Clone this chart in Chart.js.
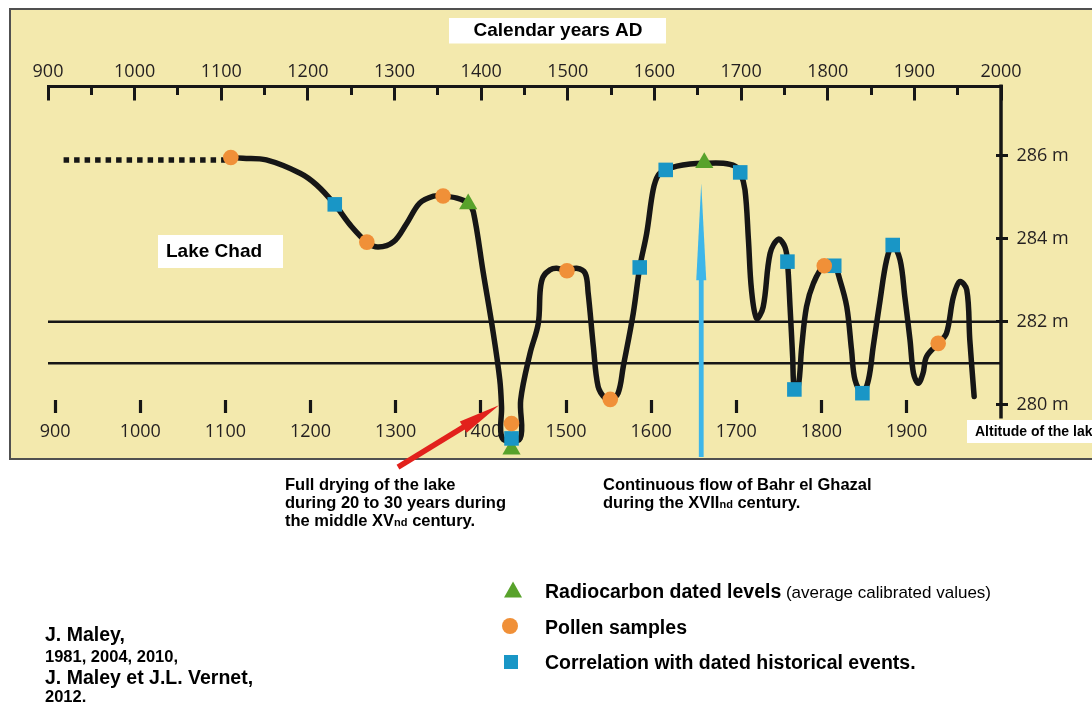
<!DOCTYPE html>
<html>
<head>
<meta charset="utf-8">
<script src="https://cdn.jsdelivr.net/npm/chart.js@4.4.1/dist/chart.umd.min.js"></script>
<style>
  html, body { margin: 0; padding: 0; background: #ffffff; }
  #c { display: block; }
</style>
</head>
<body>
<canvas id="c" width="1092" height="703"></canvas>
<script>
// ---------- data ----------
const curveYears = [1111, 1125, 1152, 1191, 1210, 1231, 1249, 1268, 1281, 1299, 1314, 1329, 1345, 1356, 1372, 1385, 1391,
  1402.5, 1414, 1421.5, 1423.5, 1424.5, 1445, 1445.6, 1456.4, 1465.9, 1468.2, 1471.4, 1479.4, 1487.2, 1499, 1510, 1520, 1523.5, 1529.5,
  1535, 1543, 1549, 1558, 1564, 1575.5, 1583, 1591, 1598.5, 1604.5, 1613, 1626, 1641, 1657.5, 1679.5, 1693, 1699,
  1704.5, 1708.5, 1712, 1718, 1725.5, 1733.5, 1743, 1750.5, 1753.5, 1756.5, 1759.5, 1761.5, 1766, 1770, 1775.5,
  1783.5, 1795.5, 1807.5, 1814, 1822, 1827.5, 1831.5, 1840, 1847, 1852.5, 1860.5, 1868, 1875, 1883.5, 1889, 1895,
  1899, 1904.5, 1910, 1914, 1927.5, 1937, 1945, 1952.5, 1960.5, 1964, 1969];
const curveLevels = [285.96, 285.94, 285.90, 285.58, 285.30, 284.83, 284.33, 283.92, 283.80, 283.93, 284.37, 284.86, 285.03, 285.03, 284.98, 284.86, 284.65,
  283.17, 281.72, 280.60, 279.95, 279.19, 279.19, 280.12, 281.24, 281.96, 282.77, 283.08, 283.25, 283.29, 283.23, 283.29, 283.17, 282.69, 281.40,
  280.44, 280.16, 280.13, 280.28, 280.92, 282.20, 283.31, 284.13, 285.18, 285.54, 285.66, 285.75, 285.80, 285.82, 285.82, 285.75, 285.60,
  285.18, 283.97, 282.77, 282.08, 282.36, 283.65, 283.99, 283.81, 283.45, 282.36, 281.16, 280.37, 280.44, 281.40, 282.36,
  282.93, 283.35, 283.35, 283.01, 282.36, 281.32, 280.60, 280.28, 280.60, 281.40, 282.53, 283.49, 283.85, 283.49, 282.60, 281.56,
  280.76, 280.52, 280.76, 281.16, 281.48, 281.72, 282.60, 282.97, 282.77, 281.56, 280.20];

const dottedYears = [918, 1106];
const dottedLevels = [285.9, 285.9];

const thresholdLevels = [282, 281];

const radiocarbonYears = [1385, 1435, 1657.5];
const radiocarbonLevels = [284.84, 278.93, 285.83];

const pollenYears = [1111, 1268, 1356, 1435, 1499, 1549, 1796, 1927.5];
const pollenLevels = [285.96, 283.92, 285.03, 279.55, 283.23, 280.13, 283.35, 281.48];

const historicalYears = [1231, 1435, 1583, 1613, 1699, 1753.5, 1761.5, 1807.5, 1840, 1875];
const historicalLevels = [284.83, 279.19, 283.31, 285.66, 285.60, 283.45, 280.37, 283.35, 280.28, 283.85];

const topTickYears = [900, 1000, 1100, 1200, 1300, 1400, 1500, 1600, 1700, 1800, 1900, 2000];
const minorTickYears = [950, 1050, 1150, 1250, 1350, 1450, 1550, 1650, 1750, 1850, 1950];
const bottomTickYears = [900, 1000, 1100, 1200, 1300, 1400, 1500, 1600, 1700, 1800, 1900];
const altitudeTicks = [280, 282, 284, 286];

// annotation anchors (years / levels)
const flowArrow = { year: 1654, tip: 285.34, headBase: 283.0 };
const dryArrow = { fromYear: 1304, fromLevel: 278.5, toYear: 1420.6, toLevel: 279.99 };
const axisLineBottom = 279.67;

// ---------- helpers ----------
const zip = (xs, ys) => xs.map((x, i) => ({ x: x, y: ys[i] }));
const INK = '#161616';
const TICKFONT = { family: '"Open Sans", "DejaVu Sans", sans-serif', size: 18 };
const TICKCOLOR = '#231f20';
const SANS = '"Liberation Sans", Arial, sans-serif';
const Y_MIN = 278.694, Y_MAX = 287.682;
const X_MIN = topTickYears[0], X_MAX = topTickYears[topTickYears.length - 1];

function setTicks(list) {
  return (scale) => { scale.ticks = list.map(v => ({ value: v })); };
}

function drawRuns(ctx, x, y, parts) {
  let cx = x;
  for (const [t, f] of parts) {
    ctx.font = f;
    ctx.fillText(t, cx, y);
    cx += ctx.measureText(t).width;
  }
}

const decor = {
  id: 'decor',
  beforeDraw(chart) {
    const ctx = chart.ctx;
    ctx.save();
    ctx.fillStyle = '#ffffff';
    ctx.fillRect(0, 0, chart.width, chart.height);
    ctx.fillStyle = '#F3E9AD';
    ctx.fillRect(10, 9, 1100, 450);
    ctx.strokeStyle = '#505050';
    ctx.lineWidth = 2;
    ctx.strokeRect(10, 9, 1100, 450);
    ctx.restore();
  },
  beforeDatasetsDraw(chart) {
    // right-hand altitude axis line, stopping just under 280 m
    const ctx = chart.ctx;
    const sx = chart.scales.x, sy = chart.scales.y;
    const x = sx.getPixelForValue(X_MAX);
    ctx.save();
    ctx.strokeStyle = INK;
    ctx.lineWidth = 3.5;
    ctx.beginPath();
    ctx.moveTo(x, sy.getPixelForValue(Y_MAX) - 1.5);
    ctx.lineTo(x, sy.getPixelForValue(axisLineBottom));
    ctx.stroke();
    ctx.restore();
  },
  afterDatasetsDraw(chart) {
    const ctx = chart.ctx;
    const sx = chart.scales.x, sy = chart.scales.y;
    ctx.save();
    // blue arrow (continuous flow of Bahr el Ghazal)
    const ax = sx.getPixelForValue(flowArrow.year);
    const tipY = sy.getPixelForValue(flowArrow.tip);
    const baseY = sy.getPixelForValue(flowArrow.headBase);
    ctx.fillStyle = '#3DB6E9';
    ctx.fillRect(ax - 2.4, baseY - 1, 4.8, 458 - baseY);
    ctx.beginPath();
    ctx.moveTo(ax, tipY);
    ctx.lineTo(ax + 5, baseY);
    ctx.lineTo(ax - 5, baseY);
    ctx.closePath();
    ctx.fill();
    // red arrow (full drying)
    const x0 = sx.getPixelForValue(dryArrow.fromYear), y0 = sy.getPixelForValue(dryArrow.fromLevel);
    const x1 = sx.getPixelForValue(dryArrow.toYear), y1 = sy.getPixelForValue(dryArrow.toLevel);
    const dx = x1 - x0, dy = y1 - y0, L = Math.hypot(dx, dy);
    const ux = dx / L, uy = dy / L, nx = -uy, ny = ux;
    const headLen = 42, halfW = 6.5;
    const bx = x1 - ux * headLen, by = y1 - uy * headLen;
    ctx.strokeStyle = '#E2211C';
    ctx.fillStyle = '#E2211C';
    ctx.lineWidth = 5.5;
    ctx.lineCap = 'butt';
    ctx.beginPath();
    ctx.moveTo(x0, y0);
    ctx.lineTo(bx + ux * 4, by + uy * 4);
    ctx.stroke();
    ctx.beginPath();
    ctx.moveTo(x1, y1);
    ctx.lineTo(bx + nx * halfW, by + ny * halfW);
    ctx.lineTo(bx - nx * halfW, by - ny * halfW);
    ctx.closePath();
    ctx.fill();
    ctx.restore();
  },
  afterDraw(chart) {
    const ctx = chart.ctx;
    ctx.save();
    // white label boxes
    ctx.fillStyle = '#ffffff';
    ctx.fillRect(449, 18, 217, 25.5);
    ctx.fillRect(158, 235, 125, 33);
    ctx.fillRect(967, 420, 130, 23);
    ctx.fillStyle = '#000000';
    ctx.textBaseline = 'middle';
    ctx.font = 'bold 19px ' + SANS;
    ctx.textAlign = 'center';
    ctx.fillText('Calendar years AD', 558, 31);
    ctx.textAlign = 'left';
    ctx.fillText('Lake Chad', 166, 252);
    ctx.font = 'bold 14px ' + SANS;
    ctx.fillText('Altitude of the lake', 975, 432);

    // annotations below the frame
    ctx.textBaseline = 'alphabetic';
    const B = 'bold 16.5px ' + SANS, Bs = 'bold 11px ' + SANS;
    drawRuns(ctx, 285, 490, [['Full drying of the lake', B]]);
    drawRuns(ctx, 285, 508, [['during 20 to 30 years during', B]]);
    drawRuns(ctx, 285, 526, [['the middle XV', B], ['nd', Bs], [' century.', B]]);
    drawRuns(ctx, 603, 490, [['Continuous flow of Bahr el Ghazal', B]]);
    drawRuns(ctx, 603, 508, [['during the XVII', B], ['nd', Bs], [' century.', B]]);

    // legend
    const LB = 'bold 19.5px ' + SANS, LR = '17px ' + SANS;
    ctx.fillStyle = '#58A22B';
    ctx.beginPath();
    ctx.moveTo(513, 581.5); ctx.lineTo(522, 597.5); ctx.lineTo(504, 597.5); ctx.closePath(); ctx.fill();
    ctx.fillStyle = '#F09038';
    ctx.beginPath(); ctx.arc(510, 626, 8, 0, Math.PI * 2); ctx.fill();
    ctx.fillStyle = '#1996C6';
    ctx.fillRect(504, 655, 14, 14);
    ctx.fillStyle = '#000000';
    drawRuns(ctx, 545, 598, [['Radiocarbon dated levels', LB], [' (average calibrated values)', LR]]);
    drawRuns(ctx, 545, 634, [['Pollen samples', LB]]);
    drawRuns(ctx, 545, 669, [['Correlation with dated historical events.', LB]]);

    // citation
    const CB = 'bold 19.5px ' + SANS, CS = 'bold 16.5px ' + SANS;
    drawRuns(ctx, 45, 641, [['J. Maley,', CB]]);
    drawRuns(ctx, 45, 662, [['1981, 2004, 2010,', CS]]);
    drawRuns(ctx, 45, 684, [['J. Maley et J.L. Vernet,', CB]]);
    drawRuns(ctx, 45, 702, [['2012.', CS]]);
    ctx.restore();
  }
};

const lineCommon = { showLine: true, pointRadius: 0, pointHoverRadius: 0, xAxisID: 'x', yAxisID: 'y', clip: false };
const markCommon = { showLine: false, borderWidth: 0, xAxisID: 'x', yAxisID: 'y', clip: false };

new Chart(document.getElementById('c'), {
  type: 'scatter',
  data: {
    datasets: [
      Object.assign({ label: 'Pollen samples', data: zip(pollenYears, pollenLevels), pointStyle: 'circle',
        pointRadius: 7.8, backgroundColor: '#F09038', order: 0 }, markCommon),
      Object.assign({ label: 'Correlation with dated historical events', data: zip(historicalYears, historicalLevels),
        pointStyle: 'rect', pointRadius: 10.3, backgroundColor: '#1996C6', order: 1 }, markCommon),
      Object.assign({ label: 'Radiocarbon dated levels', data: zip(radiocarbonYears, radiocarbonLevels),
        pointStyle: 'triangle', pointRadius: 10.5, backgroundColor: '#58A22B', order: 2 }, markCommon),
      Object.assign({ label: 'Lake level', data: zip(curveYears, curveLevels), borderColor: INK, borderWidth: 5.5,
        tension: 0.35, capBezierPoints: false, borderCapStyle: 'round', borderJoinStyle: 'round',
        order: 5 }, lineCommon),
      Object.assign({ label: 'Undated level', data: zip(dottedYears, dottedLevels), borderColor: INK, borderWidth: 5.5,
        borderDash: [5.5, 5], borderCapStyle: 'butt', order: 6 }, lineCommon),
      ...thresholdLevels.map(lv => Object.assign({ label: lv + ' m', data: [{ x: X_MIN, y: lv }, { x: X_MAX, y: lv }],
        borderColor: INK, borderWidth: 2.5, order: 7 }, lineCommon))
    ]
  },
  options: {
    responsive: false,
    animation: false,
    devicePixelRatio: 1,
    events: [],
    layout: { padding: { left: 48, top: 0, right: 0, bottom: 244 } },
    plugins: { legend: { display: false }, tooltip: { enabled: false } },
    scales: {
      x: {
        type: 'linear', position: 'top', min: X_MIN, max: X_MAX,
        afterBuildTicks: setTicks(topTickYears),
        afterFit: (s) => { s.height = 86; },
        grid: { display: false, drawTicks: false },
        border: { display: false },
        ticks: { autoSkip: false, maxRotation: 0, padding: 3.5, font: TICKFONT, color: TICKCOLOR, callback: (v) => String(v) }
      },
      xTop: {
        type: 'linear', axis: 'x', position: { y: Y_MAX }, min: X_MIN, max: X_MAX,
        afterBuildTicks: setTicks(topTickYears),
        grid: { display: true, drawOnChartArea: false, drawTicks: true, tickLength: 12.5, tickWidth: 3, tickColor: INK, lineWidth: 3, color: INK },
        border: { display: true, width: 3, color: INK },
        ticks: { display: false }
      },
      xTopMinor: {
        type: 'linear', axis: 'x', position: { y: Y_MAX }, min: X_MIN, max: X_MAX,
        afterBuildTicks: setTicks(minorTickYears),
        grid: { display: true, drawOnChartArea: false, drawTicks: true, tickLength: 9, tickWidth: 3, tickColor: INK, lineWidth: 3, color: INK },
        border: { display: false },
        ticks: { display: false }
      },
      x2: {
        type: 'linear', axis: 'x', position: { y: 280.115 }, min: 891.66, max: 2010.86,
        afterBuildTicks: setTicks(bottomTickYears),
        grid: { display: true, drawOnChartArea: false, drawTicks: true, tickLength: 13, tickWidth: 3.2, tickColor: INK, lineWidth: 3, color: INK },
        border: { display: false },
        ticks: { autoSkip: false, maxRotation: 0, padding: 8, font: TICKFONT, color: TICKCOLOR, callback: (v) => String(v) }
      },
      y: {
        type: 'linear', position: 'right', min: Y_MIN, max: Y_MAX,
        afterBuildTicks: setTicks(altitudeTicks),
        afterFit: (s) => { s.width = 91; },
        grid: { display: true, drawOnChartArea: false, drawTicks: true, tickLength: 7, tickWidth: 3, tickColor: INK, lineWidth: 3, color: INK },
        border: { display: false },
        ticks: { autoSkip: false, padding: 8.5, font: TICKFONT, color: TICKCOLOR, callback: (v) => v + ' m' }
      },
      yIn: {
        type: 'linear', axis: 'y', position: { x: X_MAX }, min: Y_MIN, max: Y_MAX,
        afterBuildTicks: setTicks(altitudeTicks),
        grid: { display: true, drawOnChartArea: false, drawTicks: true, tickLength: 5, tickWidth: 3, tickColor: INK, lineWidth: 3, color: INK },
        border: { display: false },
        ticks: { display: false }
      }
    }
  },
  plugins: [decor]
});
</script>
</body>
</html>
